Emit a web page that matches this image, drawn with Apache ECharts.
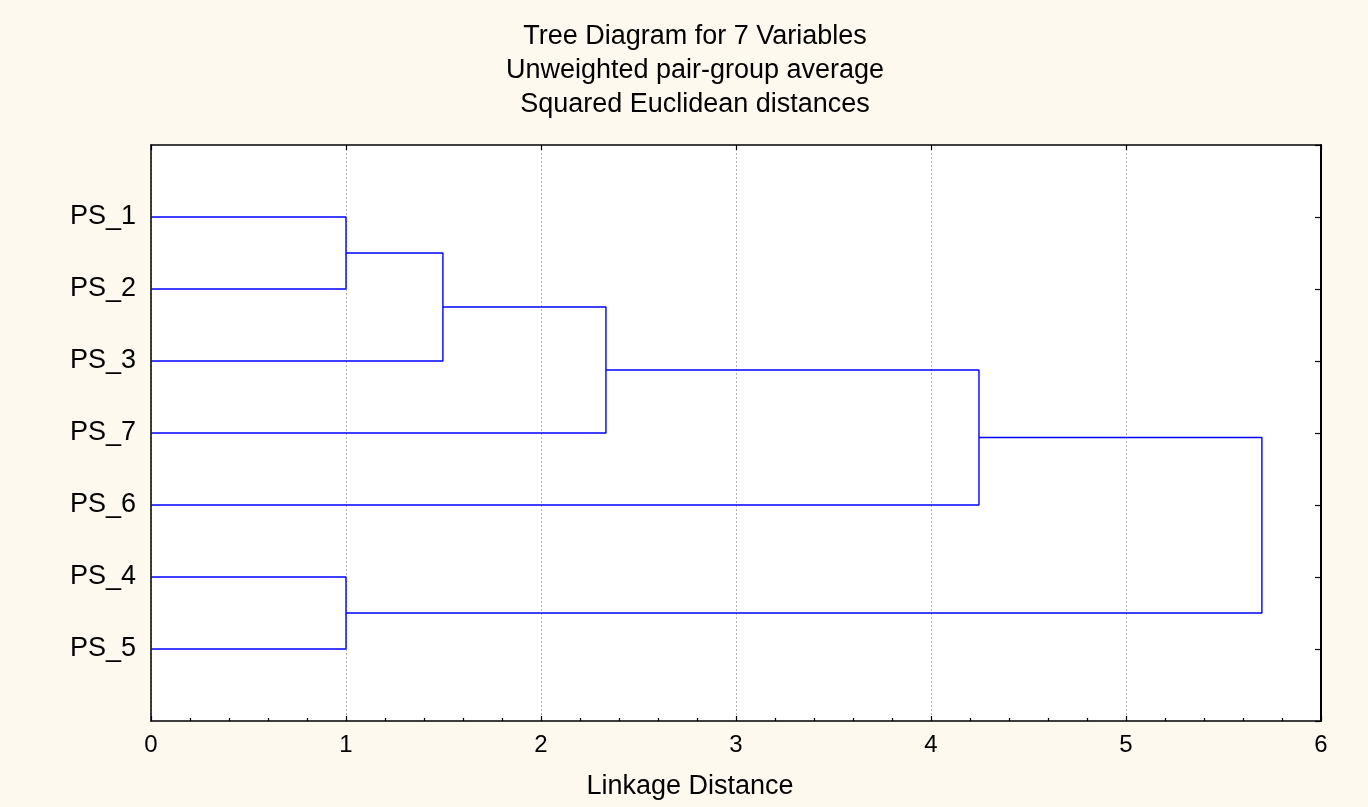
<!DOCTYPE html>
<html>
<head>
<meta charset="utf-8">
<title>Tree Diagram for 7 Variables</title>
<script src="https://cdn.jsdelivr.net/npm/echarts@6/dist/echarts.min.js"></script>
<style>
  html, body { margin: 0; padding: 0; background: #fef9ee; }
  #chart { width: 1368px; height: 807px; }
</style>
</head>
<body>
<div id="chart"></div>
<script>
// Variables, in the order they are listed down the tree
const leafOrder = ['PS_1', 'PS_2', 'PS_3', 'PS_7', 'PS_6', 'PS_4', 'PS_5'];

// Agglomeration steps (unweighted pair-group average).
// Each step joins two members: a leaf name or the index of an earlier step.
const mergeA = ['PS_1', 'PS_4', 0, 2, 3, 4];
const mergeB = ['PS_2', 'PS_5', 'PS_3', 'PS_7', 'PS_6', 1];
const mergeDistance = [1.0, 1.0, 1.497, 2.333, 4.246, 5.697];

const xTicks = [0, 1, 2, 3, 4, 5, 6];

// Position (row, height) of a tree member
const stepPos = [];
function memberPos(m) {
  if (typeof m === 'string') return { row: leafOrder.indexOf(m) + 1, h: 0 };
  return stepPos[m];
}

const branchSeries = [];
for (let i = 0; i < mergeDistance.length; i++) {
  const a = memberPos(mergeA[i]);
  const b = memberPos(mergeB[i]);
  const d = mergeDistance[i];
  stepPos.push({ row: (a.row + b.row) / 2, h: d });
  branchSeries.push({
    type: 'line',
    name: 'step' + (i + 1),
    xAxisIndex: 0,
    yAxisIndex: 0,
    data: [[a.h, a.row], [d, a.row], [d, b.row], [b.h, b.row]],
    symbol: 'none',
    color: '#0000ff',
    lineStyle: { color: '#0000ff', width: 1.4 },
    silent: true,
    animation: false
  });
}

const font = 'Liberation Sans, Arial, sans-serif';
const chart = echarts.init(document.getElementById('chart'), null, { renderer: 'canvas' });

const yBase = {
  type: 'value',
  min: 0,
  max: leafOrder.length + 1,
  interval: 1,
  inverse: true,
  splitLine: { show: false }
};

chart.setOption({
  backgroundColor: '#fef9ee',
  animation: false,
  title: {
    text: 'Tree Diagram for 7 Variables\nUnweighted pair-group average\nSquared Euclidean distances',
    left: 690,
    top: 15,
    textAlign: 'center',
    textStyle: {
      fontFamily: font,
      fontSize: 27,
      fontWeight: 'normal',
      color: '#000',
      lineHeight: 34
    }
  },
  grid: {
    left: 151,
    right: 47,
    top: 145,
    bottom: 86,
    show: true,
    backgroundColor: '#ffffff',
    borderWidth: 0
  },
  xAxis: [
    {
      type: 'value',
      position: 'bottom',
      min: xTicks[0],
      max: xTicks[xTicks.length - 1],
      interval: 1,
      name: 'Linkage Distance',
      nameLocation: 'middle',
      nameGap: 52,
      nameTextStyle: {
        fontFamily: font,
        fontSize: 27,
        color: '#000',
        padding: [0, 92, 0, 0]
      },
      axisLine: { show: true, onZero: false, lineStyle: { color: '#000', width: 1.5 } },
      axisTick: { show: true, inside: true, length: 5, lineStyle: { color: '#000', width: 1.2 } },
      minorTick: { show: true, splitNumber: 5, length: 3, lineStyle: { color: '#000', width: 1.2 } },
      axisLabel: { fontFamily: font, fontSize: 24, color: '#000', margin: 12 },
      splitLine: { show: true, lineStyle: { color: '#b0b0b0', type: [2, 2], width: 1 } }
    },
    {
      type: 'value',
      position: 'top',
      min: xTicks[0],
      max: xTicks[xTicks.length - 1],
      interval: 1,
      axisLine: { show: true, onZero: false, lineStyle: { color: '#000', width: 1.5 } },
      axisTick: { show: true, inside: true, length: 5, lineStyle: { color: '#000', width: 1.2 } },
      axisLabel: { show: false },
      splitLine: { show: false }
    }
  ],
  yAxis: [
    Object.assign({}, yBase, {
      position: 'left',
      axisLine: { show: true, onZero: false, lineStyle: { color: '#000', width: 1.5 } },
      axisTick: { show: false },
      axisLabel: {
        fontFamily: font,
        fontSize: 27,
        color: '#000',
        margin: 15,
        formatter: function (v) {
          return (v >= 1 && v <= leafOrder.length) ? leafOrder[v - 1] : '';
        }
      }
    }),
    Object.assign({}, yBase, {
      position: 'right',
      axisLine: { show: true, onZero: false, lineStyle: { color: '#000', width: 2 } },
      axisTick: { show: true, inside: true, length: 6, lineStyle: { color: '#000', width: 1.2 } },
      axisLabel: { show: false }
    })
  ],
  series: branchSeries
});
</script>
</body>
</html>
